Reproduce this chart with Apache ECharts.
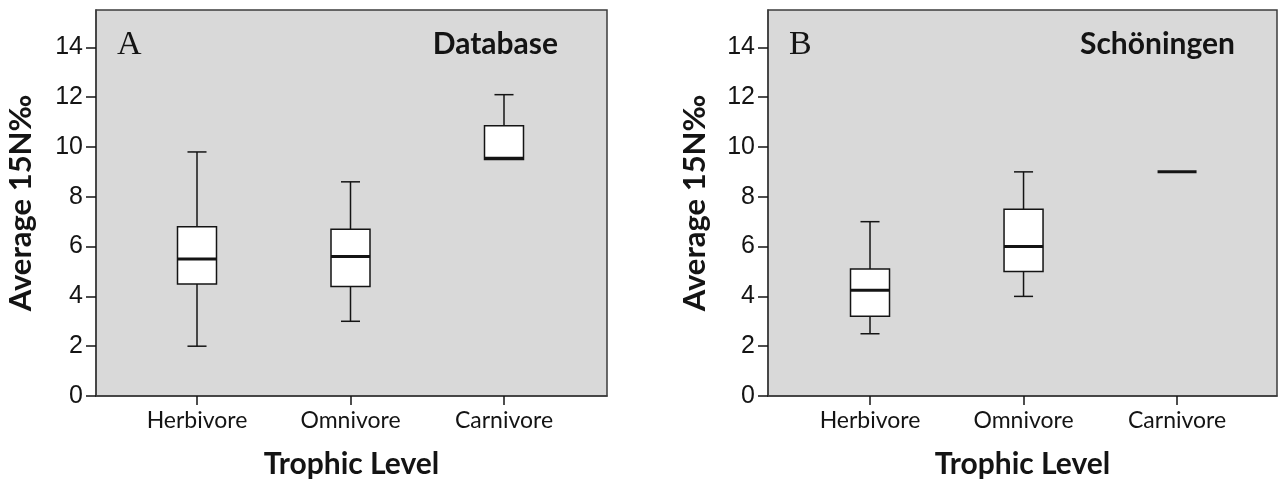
<!DOCTYPE html>
<html>
<head>
<meta charset="utf-8">
<title>Average 15N‰ by trophic level</title>
<script src="https://cdn.jsdelivr.net/npm/echarts@6/dist/echarts.min.js"></script>
<style>
  html, body { margin: 0; padding: 0; background: #ffffff; }
  #chart { width: 1278px; height: 484px; }
</style>
</head>
<body>
<div id="chart"></div>
<script>
// Trophic levels along the x axis (positions 1, 2, 3)
const trophicLevels = ['Herbivore', 'Omnivore', 'Carnivore'];
const levelPositions = [1, 2, 3];

// Box statistics per level: [min, Q1, median, Q3, max] of average 15N‰
const databaseStats = [
  [2.0, 4.5, 5.5, 6.8, 9.8],
  [3.0, 4.4, 5.6, 6.7, 8.6],
  [9.5, 9.5, 9.55, 10.85, 12.1]
];
const schoeningenStats = [
  [2.5, 3.2, 4.25, 5.1, 7.0],
  [4.0, 5.0, 6.0, 7.5, 9.0],
  [9.0, 9.0, 9.0, 9.0, 9.0]
];

// Y axis ticks and labels
const yTicks = [0, 2, 4, 6, 8, 10, 12, 14];

const panelLetters = ['A', 'B'];
const panelTitles = ['Database', 'Schöningen'];
const yAxisTitle = 'Average 15N‰';
const xAxisTitle = 'Trophic Level';

// ---- styling ----
const INK = '#141414';
const PLOT_BG = '#d9d9d9';
const BOX_W = 0.254;   // box width in x-axis units
const CAP_W = 0.124;   // whisker cap width in x-axis units
const SANS = 'Lato, "Open Sans", sans-serif';
const NUM = '"Liberation Sans", Arial, sans-serif';

function toSeriesData(stats) {
  return stats.map((s, i) => [levelPositions[i]].concat(s));
}

function renderBox(params, api) {
  const x = api.value(0);
  const pLo = api.coord([x, api.value(1)]);
  const pQ1 = api.coord([x, api.value(2)]);
  const pMed = api.coord([x, api.value(3)]);
  const pQ3 = api.coord([x, api.value(4)]);
  const pHi = api.coord([x, api.value(5)]);
  const boxW = api.size([BOX_W, 0])[0];
  const capW = api.size([CAP_W, 0])[0];
  const cx = pMed[0];
  const thin = { stroke: INK, lineWidth: 1.5, fill: null };
  const children = [];
  if (pLo[1] - pQ1[1] > 0.5) {
    children.push({ type: 'line', shape: { x1: cx, y1: pQ1[1], x2: cx, y2: pLo[1] }, style: thin });
    children.push({ type: 'line', shape: { x1: cx - capW / 2, y1: pLo[1], x2: cx + capW / 2, y2: pLo[1] }, style: thin });
  }
  if (pQ3[1] - pHi[1] > 0.5) {
    children.push({ type: 'line', shape: { x1: cx, y1: pHi[1], x2: cx, y2: pQ3[1] }, style: thin });
    children.push({ type: 'line', shape: { x1: cx - capW / 2, y1: pHi[1], x2: cx + capW / 2, y2: pHi[1] }, style: thin });
  }
  if (pQ1[1] - pQ3[1] > 0.5) {
    children.push({
      type: 'rect',
      shape: { x: cx - boxW / 2, y: pQ3[1], width: boxW, height: pQ1[1] - pQ3[1] },
      style: { fill: '#ffffff', stroke: INK, lineWidth: 1.5 }
    });
  }
  children.push({
    type: 'line',
    shape: { x1: cx - boxW / 2, y1: pMed[1], x2: cx + boxW / 2, y2: pMed[1] },
    style: { stroke: INK, lineWidth: 3 }
  });
  return { type: 'group', children: children };
}

// Plot rectangles for the two panels
const panels = [
  { left: 96, top: 10, width: 511, height: 387, xMin: 0.342, xMax: 3.671, nameGap: 60 },
  { left: 768, top: 10, width: 509, height: 387, xMin: 0.3355, xMax: 3.651, nameGap: 58 }
];

const grids = panels.map(p => ({
  left: p.left, top: p.top, width: p.width, height: p.height,
  show: true, backgroundColor: PLOT_BG, borderColor: '#3c3c3c', borderWidth: 1.5
}));

const xAxes = panels.map((p, i) => ({
  type: 'value', gridIndex: i, min: p.xMin, max: p.xMax,
  splitLine: { show: false },
  axisLine: { show: true, lineStyle: { color: '#3c3c3c', width: 1.5 } },
  axisTick: { show: true, customValues: levelPositions, length: 9, lineStyle: { color: INK, width: 1.5 } },
  axisLabel: {
    customValues: levelPositions, margin: 13,
    formatter: v => trophicLevels[levelPositions.indexOf(Math.round(v))] || '',
    color: INK, fontFamily: SANS, fontSize: 23
  },
  name: xAxisTitle, nameLocation: 'middle', nameGap: 53,
  nameTextStyle: { color: INK, fontFamily: SANS, fontWeight: 'bold', fontSize: 30 }
}));

const yAxes = panels.map((p, i) => ({
  type: 'value', gridIndex: i, min: 0, max: 15.5,
  splitLine: { show: false },
  axisLine: { show: true, lineStyle: { color: '#3c3c3c', width: 1.5 } },
  axisTick: { show: true, customValues: yTicks, length: 10, lineStyle: { color: INK, width: 1.5 } },
  axisLabel: { customValues: yTicks, margin: 13, color: INK, fontFamily: NUM, fontSize: 25 },
  name: yAxisTitle, nameLocation: 'middle', nameGap: p.nameGap,
  nameTextStyle: { color: INK, fontFamily: SANS, fontWeight: 'bold', fontSize: 31 }
}));

const series = [databaseStats, schoeningenStats].map((stats, i) => ({
  type: 'custom', xAxisIndex: i, yAxisIndex: i,
  renderItem: renderBox,
  encode: { x: 0, y: [1, 2, 3, 4, 5] },
  data: toSeriesData(stats),
  silent: true, animation: false
}));

const graphics = [];
panels.forEach((p, i) => {
  graphics.push({
    type: 'text', left: p.left + 21, top: 28,
    style: { text: panelLetters[i], font: '34px "Liberation Serif", "Times New Roman", serif', fill: INK }
  });
  graphics.push({
    type: 'text', right: 1278 - (p.left + p.width) + (i === 0 ? 49 : 42), top: 29,
    style: { text: panelTitles[i], font: 'bold 30px ' + SANS, fill: INK }
  });
});

const chart = echarts.init(document.getElementById('chart'), null, { renderer: 'canvas' });
chart.setOption({
  animation: false,
  backgroundColor: '#ffffff',
  grid: grids,
  xAxis: xAxes,
  yAxis: yAxes,
  series: series,
  graphic: graphics
});
</script>
</body>
</html>
